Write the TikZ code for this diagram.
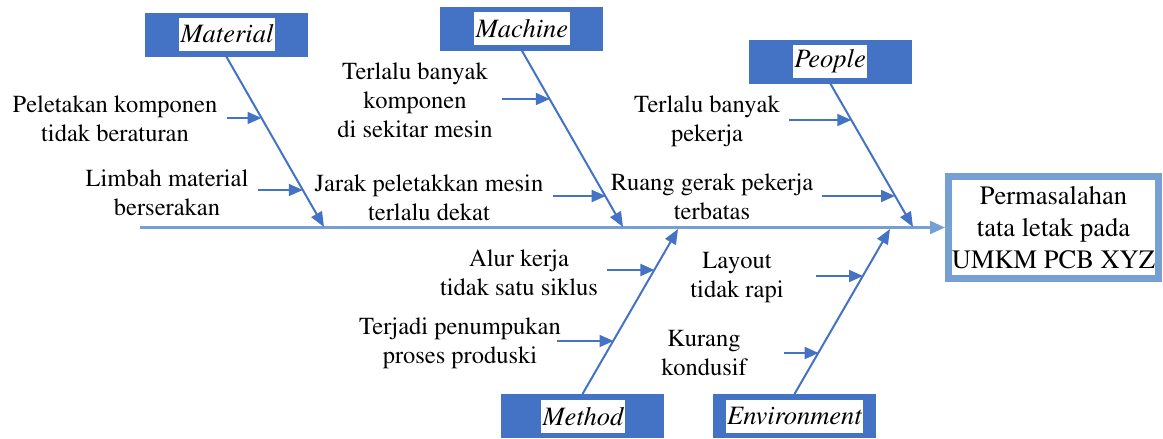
\documentclass[tikz,border=0pt]{standalone}
\usepackage[T1]{fontenc}
\usepackage{times}
\usetikzlibrary{arrows.meta}
\definecolor{bone}{HTML}{4472C4}
\definecolor{spinec}{HTML}{76A0D3}
\tikzset{
  catbox/.style={fill=bone, draw=bone, minimum width=162pt, minimum height=43pt, inner sep=0pt, outer sep=0pt},
  catlabel/.style={fill=white, inner xsep=1.5pt, inner ysep=0pt, minimum height=33pt, font=\fontsize{26.5}{30}\selectfont\itshape},
  cause/.style={align=center, font=\fontsize{24.5}{29}\selectfont, inner sep=0pt},
  bonearrow/.style={draw=bone, line width=2pt, -{Triangle[length=15pt,width=12pt]}},
  subarrow/.style={draw=bone, line width=2pt, -{Triangle[length=14pt,width=12pt]}},
  spinearrow/.style={draw=spinec, line width=2.2pt, -{Triangle[length=15pt,width=13pt]}},
  effectbox/.style={draw=spinec, line width=7pt, minimum width=210pt, minimum height=102pt, align=center, inner sep=0pt, font=\fontsize{26.5}{32}\selectfont}
}
\begin{document}
\begin{tikzpicture}[x=1pt,y=-1pt]
\useasboundingbox (0,0) rectangle (1163,439);

% effect
\node[effectbox] (eff) at (1053.5,227.5) {Permasalahan\\tata letak pada\\UMKM PCB XYZ};

% spine
\coordinate (sp0) at (140,227.5);
\draw[spinearrow] (sp0) -- (eff.west);

% category boxes
\node[catbox] (mat) at (226,34.5) {};
\node[catlabel] (matl) at (227,34) {Material};
\node[catbox] (mac) at (521.5,28.5) {};
\node[catlabel] (macl) at (522,28.5) {Machine};
\node[catbox] (peo) at (830,61.5) {};
\node[catlabel] (peol) at (830,61.5) {People};
\node[catbox] (met) at (582.5,415.5) {};
\node[catlabel] (metl) at (583,416.5) {Method};
\node[catbox] (env) at (794.5,415.5) {};
\node[catlabel] (envl) at (794.5,416.5) {Environment};

% bone ends on spine
\coordinate (matE) at (324,227);
\coordinate (macE) at (623,227);
\coordinate (peoE) at (913,227);
\coordinate (metE) at (678,229);
\coordinate (envE) at (890,229);

\draw[bonearrow] (mat.south) -- (matE);
\draw[bonearrow] (mac.south) -- (macE);
\draw[bonearrow] (peo.south) -- (peoE);
\draw[bonearrow] (met.north) -- (metE);
\draw[bonearrow] (env.north) -- (envE);

% causes
\node[cause] (t1) at (115,119) {Peletakan komponen\\tidak beraturan};
\node[cause] (t2) at (167,193) {Limbah material\\berserakan};
\node[cause] (t3) at (415,100) {Terlalu banyak\\komponen\\di sekitar mesin};
\node[cause] (t4) at (429,198) {Jarak peletakkan mesin\\terlalu dekat};
\node[cause] (t5) at (707,121) {Terlalu banyak\\pekerja};
\node[cause] (t6) at (712,197) {Ruang gerak pekerja\\terbatas};
\node[cause] (t7) at (519,273) {Alur kerja\\tidak satu siklus};
\node[cause] (t8) at (460,343) {Terjadi penumpukan\\proses produski};
\node[cause] (t9) at (737,278) {Layout\\tidak rapi};
\node[cause] (t10) at (704,353) {Kurang\\kondusif};

% sub arrows
\coordinate (s1) at (227,118);   \coordinate (e1) at (261.5,118);
\coordinate (s2) at (258,190);   \coordinate (e2) at (302.8,190);
\coordinate (s3) at (502,99);    \coordinate (e3) at (549.8,99);
\coordinate (s4) at (553,196);   \coordinate (e4) at (605.7,196);
\coordinate (s5) at (789,120);   \coordinate (e5) at (851.3,120);
\coordinate (s6) at (822,196);   \coordinate (e6) at (895,196);
\coordinate (s7) at (607,270);   \coordinate (e7) at (654.4,270);
\coordinate (s8) at (557,341);   \coordinate (e8) at (613.5,341);
\coordinate (s9) at (816,276);   \coordinate (e9) at (863,276);
\coordinate (s10) at (784,353);  \coordinate (e10) at (818.6,353);
\foreach \i in {1,...,10} {\draw[subarrow] (s\i) -- (e\i);}
\end{tikzpicture}
\end{document}
